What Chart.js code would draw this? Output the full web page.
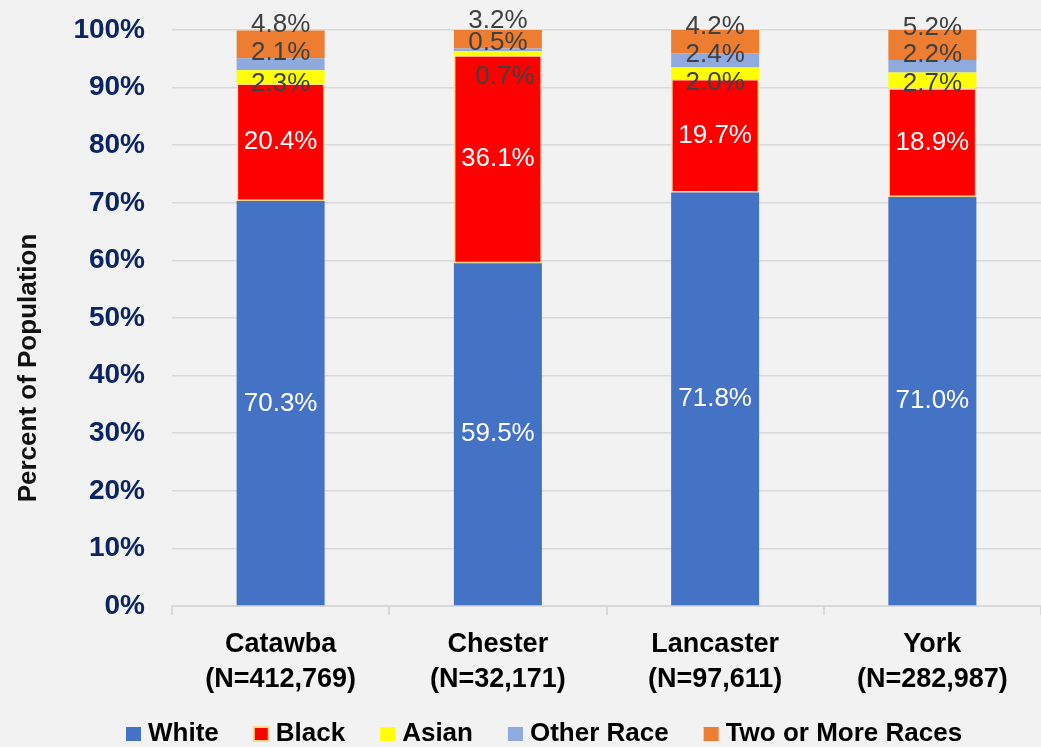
<!DOCTYPE html>
<html>
<head>
<meta charset="utf-8">
<script src="https://cdn.jsdelivr.net/npm/chart.js@4.4.0/dist/chart.umd.min.js"></script>
<style>
  html, body { margin: 0; padding: 0; background: #f1f2f1; }
  #wrap { width: 1041px; height: 747px; }
</style>
</head>
<body>
<div id="wrap"><canvas id="chart" width="1041" height="747"></canvas></div>
<script>
// data
var counties = ['Catawba', 'Chester', 'Lancaster', 'York'];
var populations = ['412,769', '32,171', '97,611', '282,987'];
var raceNames = ['White', 'Black', 'Asian', 'Other Race', 'Two or More Races'];
var white = [70.3, 59.5, 71.8, 71.0];
var black = [20.4, 36.1, 19.7, 18.9];
var asian = [2.3, 0.7, 2.0, 2.7];
var otherRace = [2.1, 0.5, 2.4, 2.2];
var twoOrMore = [4.8, 3.2, 4.2, 5.2];
var yTicks = [0, 10, 20, 30, 40, 50, 60, 70, 80, 90, 100];

var colors = ['#4472c4', '#ff0000', '#ffff00', '#8faadc', '#ed7d31'];
var labelColors = ['#ffffff', '#ffffff', '#404040', '#404040', '#404040'];
// label nudges (px) the way they were moved in the original
var labelDy = [[1, 0, 0, 0], [0, 0, 0, 0], [7, 24, 10, 3], [-11, -7, -6, -11], [-20, -18, -15, -17]];
var labelDx = [[0, 0, 0, 0], [0, 0, 0, 0], [0, 7, 0, 0], [0, 0, 0, 0], [0, 0, 0, 0]];

var sans = "'Liberation Sans', Arial, sans-serif";
var series = [white, black, asian, otherRace, twoOrMore];

var datasets = series.map(function (vals, i) {
  return {
    label: raceNames[i],
    data: vals,
    backgroundColor: colors[i],
    borderColor: i == 1 ? '#ffd98a' : colors[i],
    borderWidth: i == 1 ? 1.5 : 0,
    borderSkipped: false,
    barPercentage: 0.405,
    categoryPercentage: 1
  };
});

var extras = {
  id: 'extras',
  afterDatasetsDraw: function (chart) {
    var ctx = chart.ctx;
    ctx.save();
    ctx.font = '26px ' + sans;
    ctx.textAlign = 'center';
    ctx.textBaseline = 'middle';
    chart.data.datasets.forEach(function (ds, di) {
      var meta = chart.getDatasetMeta(di);
      meta.data.forEach(function (bar, i) {
        var cy = (bar.y + bar.base) / 2 + labelDy[di][i];
        ctx.fillStyle = labelColors[di];
        ctx.fillText(ds.data[i].toFixed(1) + '%', bar.x + labelDx[di][i], cy);
      });
    });
    ctx.restore();
  },
  afterDraw: function (chart) {
    var ctx = chart.ctx;
    ctx.save();
    // y axis title
    ctx.translate(29, 368);
    ctx.rotate(-Math.PI / 2);
    ctx.font = 'bold 26px ' + sans;
    ctx.fillStyle = '#111111';
    ctx.textAlign = 'center';
    ctx.textBaseline = 'middle';
    ctx.fillText('Percent of Population', 0, 0);
    ctx.restore();

    // legend
    ctx.save();
    ctx.font = 'bold 26px ' + sans;
    ctx.textBaseline = 'middle';
    ctx.textAlign = 'left';
    var x = 126;
    chart.data.datasets.forEach(function (ds, i) {
      ctx.fillStyle = ds.backgroundColor;
      ctx.fillRect(x, 727, 15, 14);
      if (i == 1) {
        ctx.strokeStyle = '#ffd98a';
        ctx.lineWidth = 2;
        ctx.strokeRect(x, 727, 15, 14);
      }
      ctx.fillStyle = '#000000';
      ctx.fillText(ds.label, x + 22, 734);
      x += 22 + ctx.measureText(ds.label).width + 35;
    });
    ctx.restore();
  }
};

new Chart(document.getElementById('chart'), {
  type: 'bar',
  data: {
    labels: counties.map(function (c, i) { return [c, '(N=' + populations[i] + ')']; }),
    datasets: datasets
  },
  options: {
    responsive: false,
    animation: false,
    devicePixelRatio: 1,
    layout: { padding: { top: 30, left: 0, right: 0, bottom: 41 } },
    plugins: {
      legend: { display: false },
      tooltip: { enabled: false }
    },
    scales: {
      x: {
        stacked: true,
        grid: { drawOnChartArea: false, color: '#d9d9d9', lineWidth: 2, tickLength: 9, offset: true },
        border: { color: '#d9d9d9', width: 2 },
        ticks: {
          color: '#000000',
          padding: 12,
          font: { family: sans, size: 27, weight: 'bold', lineHeight: 1.3 }
        },
        afterFit: function (scale) {
          scale.height = 100;
          scale.paddingLeft = 0;
          scale.paddingRight = 0;
        }
      },
      y: {
        stacked: true,
        min: 0,
        max: 100,
        afterBuildTicks: function (scale) {
          scale.ticks = yTicks.map(function (v) { return { value: v }; });
        },
        grid: { color: '#d9d9d9', lineWidth: 1.5, drawTicks: false },
        border: { display: false },
        ticks: {
          color: '#0b2563',
          padding: 27,
          font: { family: sans, size: 28, weight: 'bold' },
          callback: function (v) { return v + '%'; }
        },
        afterFit: function (scale) {
          scale.width = 172;
          scale.paddingTop = 0;
          scale.paddingBottom = 0;
        }
      }
    }
  },
  plugins: [extras]
});
</script>
</body>
</html>
